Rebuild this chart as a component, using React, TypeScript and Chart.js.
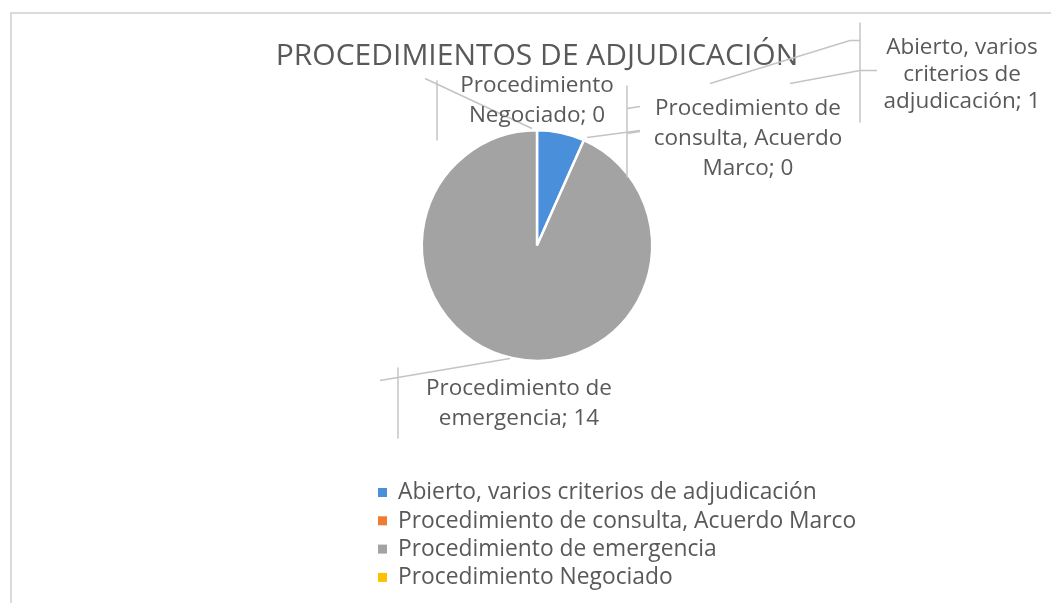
import React, { useEffect, useRef } from "react";
import { Chart, registerables } from "chart.js";

Chart.register(...registerables);

const categories = [
  "Abierto, varios criterios de adjudicación",
  "Procedimiento de consulta, Acuerdo Marco",
  "Procedimiento de emergencia",
  "Procedimiento Negociado",
];
const values = [1, 0, 14, 0];
const colors = ["#4A8FDA", "#ED7D31", "#A3A3A3", "#FFC000"];
const titleText = "PROCEDIMIENTOS DE ADJUDICACIÓN";

const FONT = "'Open Sans', 'Noto Sans', sans-serif";
const TEXT = "#595959";
const LINE = "#C4C4C4";

// label placement relative to pie centre: [dx, dy of first line, wrap width, line height]
const labelPlacement = [
  [425, -198, 208, 27],
  [211, -137, 248, 30],
  [-18, 143, 254, 30],
  [0, -160, 214, 30],
];

// leader line polylines relative to pie centre
const leaderLines: number[][][] = [
  // Abierto
  [[173, -162], [313, -205], [323, -205]],
  [[253, -162], [323, -175], [340, -175]],
  [[323, -223], [323, -123]],
  // Consulta
  [[50, -108], [103, -115]],
  [[90, -160], [90, -68]],
  [[90, -137], [103, -139]],
  [[90, -112], [103, -114]],
  // Negociado
  [[-112, -167], [-5, -117]],
  [[-100, -165], [-100, -105]],
  // Emergencia
  [[-157, 135], [-27, 113]],
  [[-139, 122], [-139, 193]],
];

function wrap(ctx: CanvasRenderingContext2D, text: string, maxW: number): string[] {
  const words = text.split(" ");
  const lines: string[] = [];
  let cur = "";
  for (const w of words) {
    const t = cur ? cur + " " + w : w;
    if (cur && ctx.measureText(t).width > maxW) {
      lines.push(cur);
      cur = w;
    } else cur = t;
  }
  if (cur) lines.push(cur);
  return lines;
}

const overlayPlugin = {
  id: "overlay",
  beforeDraw(chart: any) {
    const ctx = chart.ctx as CanvasRenderingContext2D;
    ctx.save();
    ctx.strokeStyle = "#DADADA";
    ctx.lineWidth = 2;
    ctx.beginPath();
    ctx.moveTo(11, 603);
    ctx.lineTo(11, 13);
    ctx.lineTo(1051, 13);
    ctx.stroke();
    ctx.restore();
  },
  afterDraw(chart: any) {
    const ctx = chart.ctx as CanvasRenderingContext2D;
    const meta = chart.getDatasetMeta(0);
    const arc = meta.data[0];
    const cx = arc.x;
    const cy = arc.y;
    ctx.save();
    // leader lines
    ctx.strokeStyle = LINE;
    ctx.lineWidth = 1.5;
    for (const pl of leaderLines) {
      ctx.beginPath();
      pl.forEach((p, i) => {
        if (i === 0) ctx.moveTo(cx + p[0], cy + p[1]);
        else ctx.lineTo(cx + p[0], cy + p[1]);
      });
      ctx.stroke();
    }
    // data labels
    ctx.font = `22.5px ${FONT}`;
    ctx.fillStyle = TEXT;
    ctx.textAlign = "center";
    ctx.textBaseline = "middle";
    const labels = chart.data.labels as string[];
    const data = chart.data.datasets[0].data as number[];
    labels.forEach((lab, i) => {
      const [dx, dy, ww, lh] = labelPlacement[i];
      const lines = wrap(ctx, `${lab}; ${data[i]}`, ww);
      lines.forEach((ln, j) => ctx.fillText(ln, cx + dx, cy + dy + j * lh));
    });
    // legend
    const lx = 378;
    const ly = 492;
    const rowH = 28.3;
    ctx.textAlign = "left";
    ctx.font = `22.8px ${FONT}`;
    const bg = chart.data.datasets[0].backgroundColor as string[];
    labels.forEach((lab, i) => {
      const y = ly + i * rowH;
      ctx.fillStyle = bg[i];
      ctx.fillRect(lx, y - 4, 9, 9);
      ctx.fillStyle = TEXT;
      ctx.fillText(lab, lx + 20, y + 1);
    });
    ctx.restore();
  },
};

export default function App() {
  const ref = useRef<HTMLCanvasElement | null>(null);
  useEffect(() => {
    if (!ref.current) return;
    const chart = new Chart(ref.current, {
      type: "pie",
      data: {
        labels: categories,
        datasets: [
          {
            data: values,
            backgroundColor: colors,
            borderColor: "#FFFFFF",
            borderWidth: 2.5,
          },
        ],
      },
      options: {
        responsive: false,
        animation: false,
        devicePixelRatio: 1,
        layout: { padding: { top: 38, left: 237, right: 214, bottom: 241 } },
        plugins: {
          legend: { display: false },
          tooltip: { enabled: false },
          title: {
            display: true,
            text: titleText,
            fullSize: false,
            color: TEXT,
            font: { family: FONT, size: 30, weight: "normal" },
            padding: { top: 0, bottom: 55 },
          },
        },
      },
      plugins: [overlayPlugin],
    });
    return () => chart.destroy();
  }, []);
  return (
    <div style={{ position: "absolute", left: 0, top: 0, width: 1051, height: 603, background: "#FFFFFF" }}>
      <canvas ref={ref} width={1051} height={603} style={{ display: "block" }} />
    </div>
  );
}
